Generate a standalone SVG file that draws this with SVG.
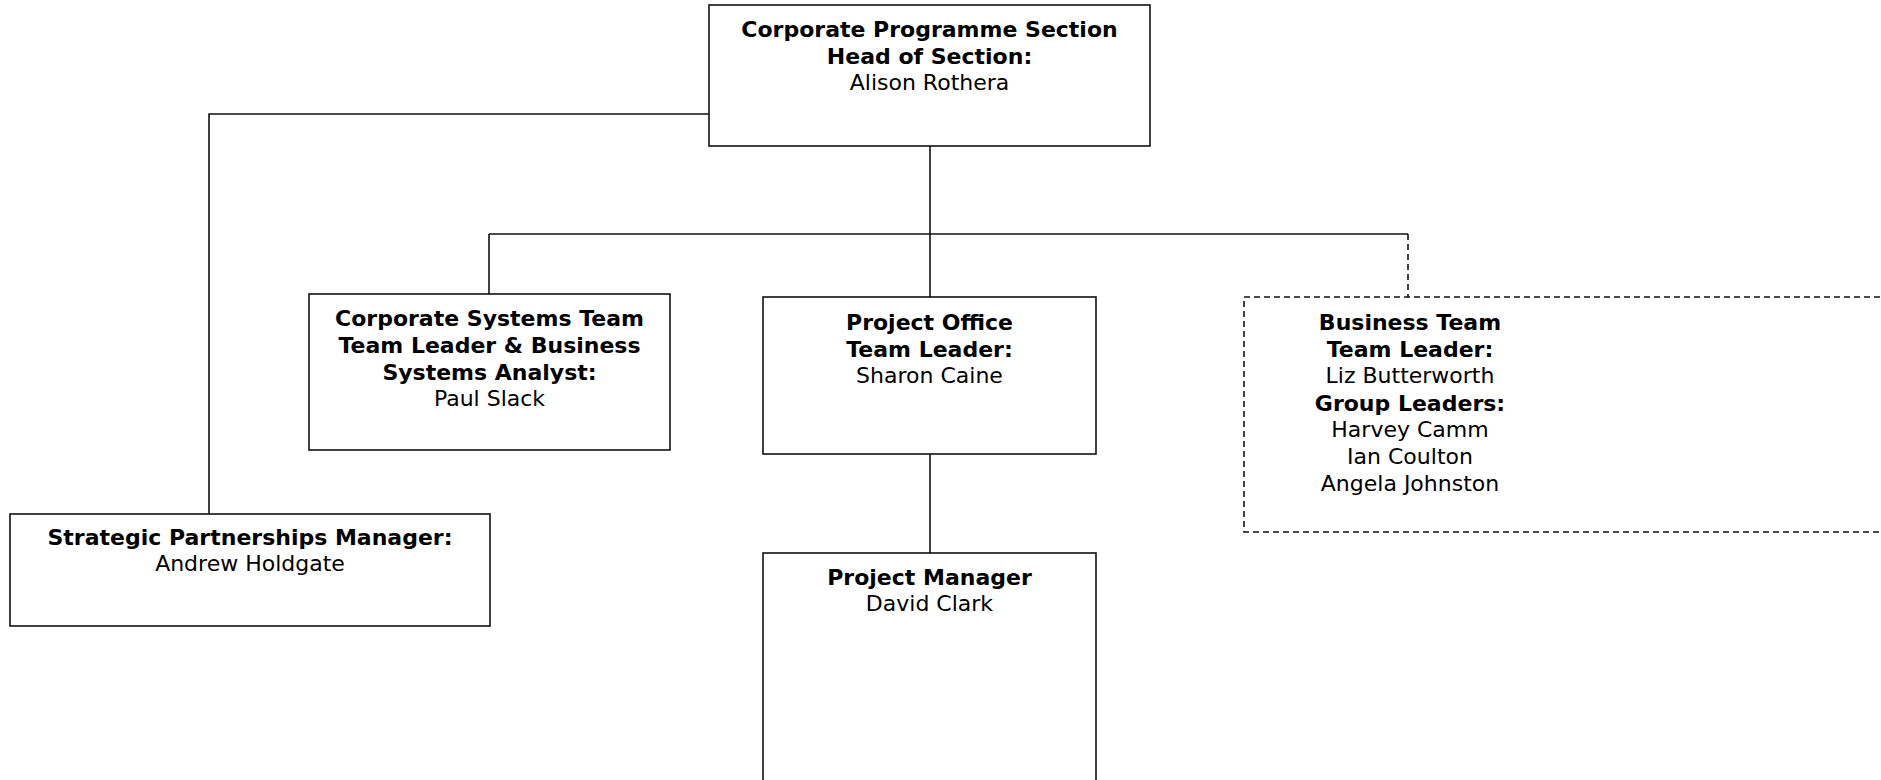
<svg xmlns="http://www.w3.org/2000/svg" width="1881" height="780" viewBox="0 0 1881 780">
<style>
.box{fill:#fff;stroke:#111;stroke-width:1.6}
.dash{stroke-dasharray:6 4}
.ln{fill:none;stroke:#111;stroke-width:1.6}
text{font-family:"DejaVu Sans","Verdana",sans-serif;font-size:22px;fill:#000;text-anchor:middle}
.b{font-weight:bold}
</style>
<rect width="1881" height="780" fill="#fff"/>
<g id="connectors">
<polyline class="ln" points="709,114 209,114 209,514"/>
<line class="ln" x1="930" y1="146" x2="930" y2="297"/>
<line class="ln" x1="489" y1="234" x2="1408" y2="234"/>
<line class="ln" x1="489" y1="234" x2="489" y2="294"/>
<line class="ln dash" x1="1408" y1="234" x2="1408" y2="297"/>
<line class="ln" x1="930" y1="454" x2="930" y2="553"/>
</g>
<g id="head">
<rect class="box" x="709" y="5" width="441" height="141"/>
<text x="929.5" y="37" class="b">Corporate Programme Section</text>
<text x="929.5" y="64" class="b">Head of Section:</text>
<text x="929.5" y="90">Alison Rothera</text>
</g>
<g id="corporate-systems">
<rect class="box" x="309" y="294" width="361" height="156"/>
<text x="489.5" y="326" class="b">Corporate Systems Team</text>
<text x="489.5" y="353" class="b">Team Leader &amp; Business</text>
<text x="489.5" y="380" class="b">Systems Analyst:</text>
<text x="489.5" y="406">Paul Slack</text>
</g>
<g id="project-office">
<rect class="box" x="763" y="297" width="333" height="157"/>
<text x="929.5" y="330" class="b">Project Office</text>
<text x="929.5" y="357" class="b">Team Leader:</text>
<text x="929.5" y="383">Sharon Caine</text>
</g>
<g id="business-team">
<rect class="box dash" x="1244" y="297" width="660" height="235"/>
<text x="1410" y="330" class="b">Business Team</text>
<text x="1410" y="357" class="b">Team Leader:</text>
<text x="1410" y="383">Liz Butterworth</text>
<text x="1410" y="411" class="b">Group Leaders:</text>
<text x="1410" y="437">Harvey Camm</text>
<text x="1410" y="464">Ian Coulton</text>
<text x="1410" y="491">Angela Johnston</text>
</g>
<g id="strategic">
<rect class="box" x="10" y="514" width="480" height="112"/>
<text x="250" y="545" class="b">Strategic Partnerships Manager:</text>
<text x="250" y="571">Andrew Holdgate</text>
</g>
<g id="project-manager">
<rect class="box" x="763" y="553" width="333" height="260"/>
<text x="929.5" y="585" class="b">Project Manager</text>
<text x="929.5" y="611">David Clark</text>
</g>
</svg>
